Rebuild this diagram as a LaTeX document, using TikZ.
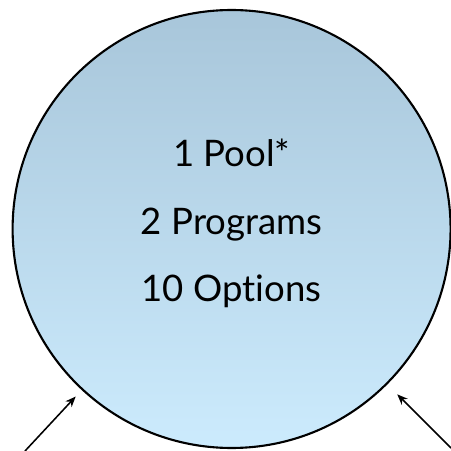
\documentclass[tikz,border=0pt]{standalone}
\usepackage{fontspec}
\setmainfont{Lato}[Ligatures=NoCommon]
\usetikzlibrary{shapes.geometric, arrows.meta}
\definecolor{pooltop}{RGB}{168,198,218}
\definecolor{poolbot}{RGB}{204,235,253}
\tikzstyle{bubble} = [circle, minimum size=10.95cm, inner sep=0pt, draw=black, line width=1.5pt, top color=pooltop, bottom color=poolbot]
\tikzstyle{listing} = [align=center, font=\fontsize{26}{47.7}\selectfont]
\tikzstyle{arrow} = [line width=1.1pt,->,>={Stealth[length=7.5pt,width=6pt]}]

\begin{document}
\begin{tikzpicture}
        \useasboundingbox (0,0) rectangle (11.275,11.275);

        \node (pool) [bubble] at (5.79,5.55) {};

        \node (info) [listing] at ([yshift=0.14cm]pool.center) {
            1 Pool*\\
            2 Programs\\
            10 Options
        };

        \coordinate (lefttail) at (0.625,0);
        \coordinate (righttail) at (11.275,0.075);

        \draw [arrow, shorten >=0.22cm] (lefttail) -- (pool);
        \draw [arrow, shorten >=0.35cm] (righttail) -- (pool);
    \end{tikzpicture}
\end{document}
